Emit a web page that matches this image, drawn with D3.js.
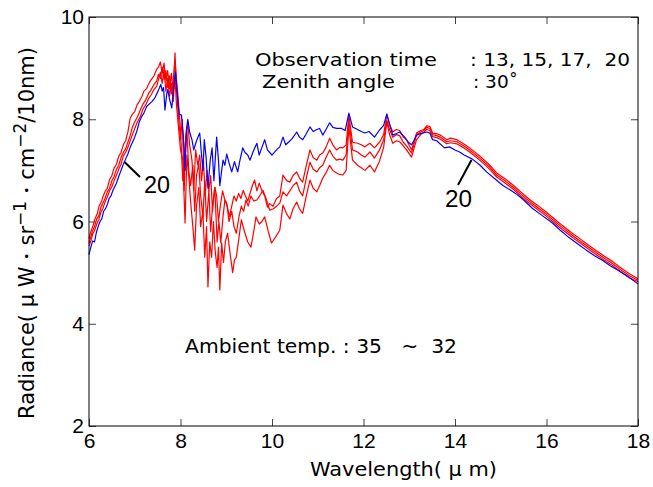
<!DOCTYPE html>
<html><head><meta charset="utf-8">
<script src="https://cdn.jsdelivr.net/npm/d3@7"></script>
<style>body{margin:0;background:#fff}</style>
</head><body>
<svg id="c" width="653" height="487"></svg>
<script>
const xTicks=[6,8,10,12,14,16,18];
const yTicks=[2,4,6,8,10];

// 20 h (blue)
const blue20=[[6.0,5.35],[6.04,5.5],[6.08,5.62],[6.12,5.6],[6.16,5.78],[6.2,5.9],[6.24,6.0],[6.28,6.05],[6.32,6.2],[6.36,6.25],[6.4,6.33],[6.44,6.45],[6.48,6.5],[6.52,6.6],[6.56,6.68],[6.6,6.75],[6.65,6.88],[6.7,7.0],[6.75,7.12],[6.8,7.22],[6.85,7.32],[6.9,7.45],[6.95,7.55],[7.0,7.65],[7.05,7.78],[7.1,7.95],[7.15,8.05],[7.2,8.12],[7.26,8.25],[7.32,8.3],[7.37,8.34],[7.44,8.42],[7.51,8.55],[7.57,8.68],[7.6,8.55],[7.63,8.62],[7.66,8.18],[7.7,8.5],[7.72,8.58],[7.76,8.4],[7.81,8.22],[7.85,8.6],[7.89,8.92],[7.93,8.5],[7.97,8.1],[8.02,8.08],[8.06,7.7],[8.1,7.0],[8.13,7.8],[8.16,8.0],[8.2,7.75],[8.25,7.6],[8.29,7.4],[8.34,7.55],[8.38,7.65],[8.42,7.73],[8.46,7.3],[8.49,7.0],[8.52,7.6],[8.56,7.25],[8.6,6.65],[8.65,7.2],[8.69,7.44],[8.73,6.8],[8.79,7.65],[8.83,7.2],[8.86,6.7],[8.9,7.0],[8.93,7.2],[8.97,7.1],[9.01,7.32],[9.06,7.15],[9.12,6.97],[9.18,7.17],[9.25,6.97],[9.3,7.2],[9.36,7.44],[9.41,7.35],[9.47,7.3],[9.52,7.2],[9.58,7.35],[9.63,7.45],[9.67,7.53],[9.72,7.3],[9.78,7.45],[9.84,7.6],[9.9,7.4],[9.95,7.35],[10.0,7.3],[10.06,7.36],[10.12,7.42],[10.17,7.46],[10.24,7.65],[10.3,7.5],[10.36,7.55],[10.44,7.62],[10.54,7.75],[10.6,7.65],[10.67,7.6],[10.74,7.7],[10.83,7.85],[10.9,7.76],[10.98,7.8],[11.04,7.82],[11.11,7.69],[11.18,7.8],[11.26,7.93],[11.33,7.84],[11.41,7.82],[11.52,7.82],[11.6,7.78],[11.68,8.12],[11.76,7.85],[11.87,7.8],[11.95,7.76],[12.03,7.73],[12.12,7.76],[12.24,7.65],[12.35,7.79],[12.44,7.88],[12.51,8.1],[12.57,7.9],[12.64,7.69],[12.72,7.72],[12.79,7.75],[12.9,7.65],[12.98,7.55],[13.05,7.5],[13.1,7.58],[13.16,7.69],[13.25,7.72],[13.38,7.75],[13.45,7.73],[13.51,7.6],[13.6,7.58],[13.77,7.44],[13.88,7.46],[14.0,7.4],[14.1,7.36],[14.2,7.3],[14.38,7.22],[14.55,7.1],[14.69,6.97],[14.85,6.85],[15.04,6.71],[15.2,6.62],[15.34,6.54],[15.5,6.42],[15.69,6.26],[15.9,6.12],[16.13,5.97],[16.3,5.83],[16.5,5.68],[16.7,5.55],[16.87,5.44],[17.05,5.33],[17.22,5.24],[17.4,5.13],[17.59,5.03],[17.8,4.91],[18.0,4.78]];

// 13, 15, 17 h (red)
const redA=[[6.0,5.66],[6.04,5.8],[6.08,5.9],[6.13,6.05],[6.18,6.15],[6.22,6.3],[6.27,6.38],[6.31,6.5],[6.36,6.6],[6.4,6.65],[6.45,6.82],[6.5,6.9],[6.55,7.05],[6.6,7.12],[6.65,7.28],[6.7,7.35],[6.75,7.5],[6.8,7.58],[6.85,7.75],[6.9,8.02],[6.95,8.1],[7.0,8.15],[7.05,8.28],[7.1,8.35],[7.16,8.45],[7.2,8.55],[7.26,8.6],[7.32,8.72],[7.38,8.8],[7.42,8.85],[7.48,8.98],[7.52,9.02],[7.56,9.12],[7.6,8.9],[7.64,9.1],[7.68,8.75],[7.72,8.95],[7.76,8.6],[7.8,8.9],[7.84,8.5],[7.88,9.3],[7.91,8.6],[7.95,8.1],[8.0,7.6],[8.04,8.0],[8.08,6.6],[8.12,7.7],[8.16,7.93],[8.2,7.5],[8.25,7.2],[8.29,6.6],[8.33,7.4],[8.38,7.1],[8.42,7.3],[8.46,6.8],[8.5,7.2],[8.54,6.5],[8.58,7.0],[8.62,6.6],[8.66,6.9],[8.7,6.2],[8.75,6.67],[8.79,6.5],[8.83,6.0],[8.87,6.3],[8.92,6.6],[8.97,6.42],[9.02,6.3],[9.07,6.1],[9.12,6.3],[9.17,6.5],[9.22,6.4],[9.27,6.55],[9.32,6.45],[9.37,6.61],[9.42,6.5],[9.47,6.4],[9.52,6.55],[9.57,6.7],[9.62,6.81],[9.67,6.6],[9.72,6.75],[9.78,6.6],[9.84,6.5],[9.9,6.28],[9.95,6.35],[10.02,6.3],[10.1,6.45],[10.17,6.5],[10.24,6.91],[10.32,6.8],[10.39,6.77],[10.46,6.9],[10.54,6.97],[10.6,6.85],[10.67,6.77],[10.75,7.1],[10.83,7.4],[10.9,7.25],[10.98,7.2],[11.04,7.3],[11.11,7.34],[11.18,7.45],[11.26,7.63],[11.33,7.5],[11.41,7.4],[11.48,7.45],[11.55,7.44],[11.62,7.5],[11.68,8.08],[11.76,7.55],[11.87,7.53],[11.95,7.5],[12.03,7.46],[12.14,7.53],[12.24,7.44],[12.35,7.55],[12.44,7.7],[12.51,8.1],[12.57,7.9],[12.64,7.75],[12.72,7.8],[12.79,7.78],[12.87,7.65],[12.94,7.6],[13.05,7.4],[13.16,7.73],[13.25,7.78],[13.32,7.8],[13.38,7.87],[13.45,7.86],[13.51,7.73],[13.6,7.72],[13.7,7.68],[13.82,7.6],[13.9,7.63],[14.04,7.6],[14.17,7.53],[14.32,7.44],[14.54,7.28],[14.76,7.1],[14.91,6.95],[15.1,6.83],[15.26,6.72],[15.45,6.57],[15.63,6.43],[15.8,6.32],[16.0,6.18],[16.2,6.03],[16.35,5.92],[16.55,5.78],[16.72,5.67],[16.9,5.55],[17.09,5.43],[17.25,5.33],[17.44,5.22],[17.6,5.11],[17.81,4.98],[18.0,4.88]];

const redB=[[6.0,5.58],[6.04,5.7],[6.08,5.82],[6.12,5.9],[6.17,6.05],[6.22,6.12],[6.26,6.28],[6.3,6.35],[6.35,6.45],[6.4,6.58],[6.45,6.65],[6.5,6.8],[6.55,6.88],[6.6,7.02],[6.65,7.1],[6.7,7.25],[6.75,7.35],[6.8,7.42],[6.85,7.55],[6.9,7.68],[6.95,7.85],[7.0,7.95],[7.06,8.05],[7.12,8.18],[7.18,8.3],[7.24,8.38],[7.3,8.5],[7.36,8.58],[7.42,8.68],[7.48,8.75],[7.52,8.88],[7.56,8.8],[7.6,9.02],[7.64,8.78],[7.68,8.95],[7.72,8.62],[7.76,8.85],[7.8,8.5],[7.84,8.78],[7.88,9.15],[7.91,8.8],[7.95,8.4],[8.0,7.8],[8.05,6.8],[8.1,7.5],[8.14,7.8],[8.18,7.0],[8.22,6.7],[8.27,7.1],[8.31,6.2],[8.35,6.9],[8.4,7.14],[8.44,6.5],[8.49,6.09],[8.53,6.8],[8.57,6.0],[8.62,6.6],[8.66,5.8],[8.7,6.3],[8.75,6.67],[8.8,5.6],[8.84,6.0],[8.88,5.58],[8.93,6.1],[8.97,6.42],[9.01,6.36],[9.06,6.0],[9.12,6.2],[9.17,5.9],[9.22,5.77],[9.28,6.1],[9.33,6.3],[9.38,6.2],[9.43,6.42],[9.48,6.3],[9.54,6.5],[9.6,6.4],[9.67,6.42],[9.73,6.5],[9.8,6.61],[9.87,6.45],[9.95,6.22],[10.03,6.25],[10.1,6.3],[10.17,6.36],[10.24,6.58],[10.32,6.5],[10.39,6.6],[10.46,6.7],[10.54,6.77],[10.6,6.6],[10.67,6.5],[10.75,6.85],[10.83,7.16],[10.9,7.02],[10.98,6.97],[11.04,7.05],[11.11,7.1],[11.18,7.25],[11.26,7.4],[11.33,7.28],[11.41,7.2],[11.48,7.22],[11.55,7.2],[11.62,7.3],[11.68,7.98],[11.76,7.4],[11.87,7.36],[11.95,7.3],[12.03,7.26],[12.14,7.36],[12.24,7.24],[12.35,7.4],[12.44,7.6],[12.51,7.98],[12.57,7.8],[12.64,7.65],[12.72,7.7],[12.79,7.68],[12.87,7.55],[12.94,7.48],[13.05,7.34],[13.16,7.7],[13.25,7.75],[13.32,7.78],[13.38,7.84],[13.45,7.82],[13.51,7.7],[13.6,7.68],[13.7,7.64],[13.82,7.56],[13.9,7.58],[14.04,7.56],[14.17,7.49],[14.32,7.4],[14.54,7.24],[14.76,7.06],[14.91,6.91],[15.1,6.79],[15.26,6.68],[15.45,6.53],[15.63,6.39],[15.8,6.28],[16.0,6.14],[16.2,5.99],[16.35,5.88],[16.55,5.74],[16.72,5.63],[16.9,5.51],[17.09,5.39],[17.25,5.29],[17.44,5.18],[17.6,5.07],[17.81,4.94],[18.0,4.85]];

const redC=[[6.0,5.52],[6.04,5.62],[6.08,5.75],[6.12,5.82],[6.17,5.95],[6.22,6.05],[6.26,6.18],[6.3,6.25],[6.35,6.38],[6.4,6.48],[6.45,6.6],[6.5,6.68],[6.55,6.8],[6.6,6.9],[6.65,7.02],[6.7,7.12],[6.75,7.28],[6.8,7.35],[6.85,7.45],[6.9,7.58],[6.95,7.7],[7.0,7.82],[7.06,7.95],[7.12,8.05],[7.18,8.2],[7.24,8.28],[7.3,8.4],[7.36,8.48],[7.42,8.58],[7.48,8.65],[7.52,8.78],[7.56,8.92],[7.6,8.7],[7.64,8.98],[7.68,8.55],[7.72,8.8],[7.76,8.45],[7.8,8.7],[7.84,8.35],[7.88,8.85],[7.91,8.3],[7.95,7.9],[8.0,7.4],[8.05,7.2],[8.1,5.97],[8.14,7.3],[8.18,6.9],[8.22,6.4],[8.27,5.9],[8.31,5.44],[8.35,6.3],[8.4,6.67],[8.44,5.9],[8.49,6.2],[8.53,5.3],[8.57,5.9],[8.6,4.72],[8.64,5.6],[8.68,5.3],[8.72,6.0],[8.76,5.4],[8.8,5.1],[8.83,5.5],[8.86,4.66],[8.9,5.58],[8.94,5.2],[8.98,5.6],[9.03,5.77],[9.08,5.4],[9.14,5.0],[9.18,5.25],[9.22,5.3],[9.28,5.7],[9.33,6.03],[9.4,5.8],[9.47,5.6],[9.54,5.5],[9.6,5.8],[9.65,6.09],[9.72,5.95],[9.78,6.0],[9.84,6.09],[9.92,5.8],[9.99,5.58],[10.08,5.7],[10.17,5.83],[10.24,6.32],[10.32,6.15],[10.39,6.05],[10.46,6.25],[10.54,6.38],[10.6,6.25],[10.67,6.16],[10.75,6.5],[10.83,6.81],[10.9,6.65],[10.98,6.58],[11.04,6.7],[11.11,6.85],[11.18,6.95],[11.26,7.1],[11.33,7.0],[11.41,6.95],[11.48,6.92],[11.55,6.91],[11.62,7.0],[11.68,7.85],[11.76,7.2],[11.87,7.1],[11.95,7.05],[12.03,7.0],[12.14,7.1],[12.24,6.97],[12.35,7.18],[12.44,7.45],[12.51,7.95],[12.57,7.7],[12.64,7.53],[12.72,7.58],[12.79,7.56],[12.87,7.48],[12.94,7.4],[13.05,7.26],[13.16,7.6],[13.25,7.7],[13.32,7.75],[13.38,7.8],[13.45,7.78],[13.51,7.66],[13.6,7.64],[13.7,7.6],[13.82,7.52],[13.9,7.54],[14.04,7.52],[14.17,7.45],[14.32,7.36],[14.54,7.2],[14.76,7.02],[14.91,6.87],[15.1,6.75],[15.26,6.64],[15.45,6.49],[15.63,6.35],[15.8,6.24],[16.0,6.1],[16.2,5.95],[16.35,5.84],[16.55,5.7],[16.72,5.59],[16.9,5.47],[17.09,5.35],[17.25,5.25],[17.44,5.14],[17.6,5.03],[17.81,4.9],[18.0,4.82]];

const redSeries=[redA,redB,redC];

const svg=d3.select('#c');
const M={l:89,r:638,t:17,b:426};
const x=d3.scaleLinear().domain([6,18]).range([M.l,M.r]);
const y=d3.scaleLinear().domain([2,10]).range([M.b,M.t]);
const tickFont='"Liberation Sans", Arial, sans-serif';
const textFont='"DejaVu Sans", sans-serif';

function style(g,labels){
  g.select('.domain').remove();
  g.selectAll('.tick line').attr('stroke','#444').attr('stroke-width',1);
  g.selectAll('.tick text').attr('font-family',tickFont).attr('font-size',21).attr('fill','#000');
  if(!labels) g.selectAll('.tick text').remove();
}
svg.append('g').attr('transform',`translate(${M.l},0)`)
  .call(d3.axisLeft(y).tickValues(yTicks).tickSizeInner(-7).tickSizeOuter(0).tickPadding(5).tickFormat(d3.format('d')))
  .call(g=>style(g,true));
svg.append('g').attr('transform',`translate(${M.r},0)`)
  .call(d3.axisRight(y).tickValues(yTicks).tickSizeInner(-7).tickSizeOuter(0))
  .call(g=>style(g,false));
svg.append('g').attr('transform',`translate(0,${M.b})`)
  .call(d3.axisBottom(x).tickValues(xTicks).tickSizeInner(-7).tickSizeOuter(0).tickPadding(7).tickFormat(d3.format('d')))
  .call(g=>style(g,true));
svg.append('g').attr('transform',`translate(0,${M.t})`)
  .call(d3.axisTop(x).tickValues(xTicks).tickSizeInner(-7).tickSizeOuter(0))
  .call(g=>style(g,false));

const line=d3.line().x(d=>x(d[0])).y(d=>y(d[1]));
svg.append('g').selectAll('path.r').data(redSeries).join('path')
  .attr('d',line).attr('fill','none').attr('stroke','#ff0000').attr('stroke-width',1.2).attr('stroke-linejoin','round');
svg.append('path').datum(blue20).attr('d',line).attr('fill','none')
  .attr('stroke','#0000ff').attr('stroke-width',1.2).attr('stroke-linejoin','round');

svg.append('rect').attr('x',M.l).attr('y',M.t).attr('width',M.r-M.l).attr('height',M.b-M.t)
  .attr('fill','none').attr('stroke','#000').attr('stroke-width',1);

function txt(s,px,py,len,size,font,adj){
  const t=svg.append('text').attr('x',px).attr('y',py).attr('font-family',font||textFont)
    .attr('font-size',size||20).attr('fill','#000').text(s);
  if(len) t.attr('textLength',len).attr('lengthAdjust',adj||'spacingAndGlyphs');
  return t;
}
txt('Observation time',255,66,182,18.5);
txt(':\u00a013,\u00a015,\u00a017,\u00a0\u00a020',470,66,160,18.5);
txt('Zenith angle',262,88,133,18.5);
txt(':\u00a030\u02da',473,88,null,18.5);
txt('Ambient temp.\u00a0:\u00a035\u00a0\u00a0\u00a0~\u00a0\u00a032',185,353,272);
txt('20',144,193,26,23,tickFont);
txt('20',445,207,27,23,tickFont);
svg.append('line').attr('x1',124.5).attr('y1',162).attr('x2',140).attr('y2',177).attr('stroke','#000').attr('stroke-width',2);
svg.append('line').attr('x1',471.5).attr('y1',160).attr('x2',458).attr('y2',185).attr('stroke','#000').attr('stroke-width',2);

txt('Wavelength(\u00a0\u03bc\u00a0m)',310,476,187);
const yt=svg.append('text').attr('transform','translate(34,233) rotate(-90)')
  .attr('text-anchor','middle').attr('font-family',textFont).attr('font-size',21).attr('fill','#000');
yt.append('tspan').text('Radiance(\u00a0\u03bc\u00a0W\u30fbsr');
yt.append('tspan').attr('dy',-8).attr('font-size',17).text('\u22121');
yt.append('tspan').attr('dy',8).text('\u30fbcm');
yt.append('tspan').attr('dy',-8).attr('font-size',17).text('\u22122');
yt.append('tspan').attr('dy',8).text('/10nm)');
</script>
</body></html>
